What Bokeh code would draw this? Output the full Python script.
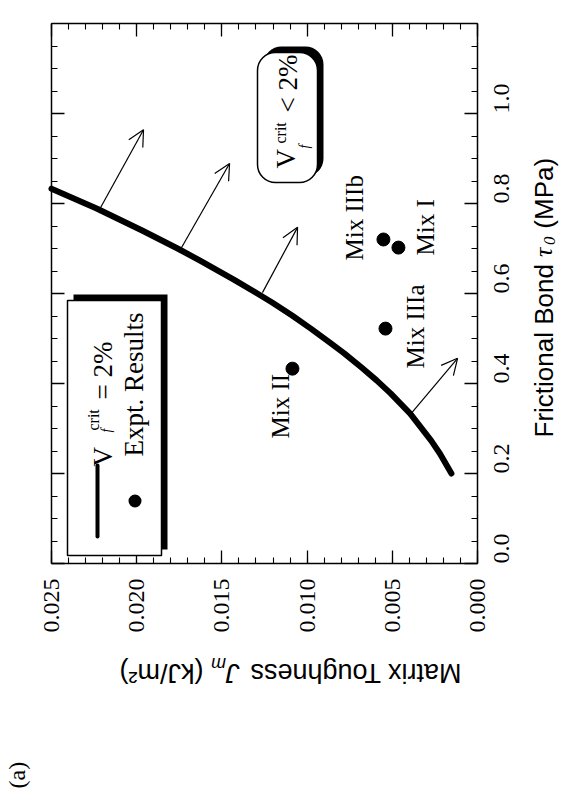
import math
from bokeh.plotting import figure
from bokeh.models import (Range1d, LinearAxis, SingleIntervalTicker, Label, BoxAnnotation,
                          Arrow, OpenHead, ColumnDataSource, NumeralTickFormatter,
                          CustomJSTickFormatter)
from bokeh.embed import file_html
from bokeh.resources import INLINE

# ---------------- data ----------------
# critical curve V_f^crit = 2 %  : frictional bond tau0 (MPa) vs matrix toughness Jm (kJ/m^2)
curve_tau = [0.200, 0.244, 0.273, 0.333, 0.378, 0.407, 0.436, 0.467, 0.491, 0.522,
             0.551, 0.580, 0.600, 0.631, 0.673, 0.700, 0.740, 0.789, 0.833]
curve_jm = [0.00153, 0.00220, 0.00272, 0.00395, 0.00510, 0.00592, 0.00682, 0.00782, 0.00866, 0.00978,
            0.01088, 0.01205, 0.01292, 0.01430, 0.01628, 0.01760, 0.01968, 0.02235, 0.02500]

# experimental results
mix_names = ["Mix I", "Mix II", "Mix IIIa", "Mix IIIb"]
mix_tau = [0.702, 0.433, 0.522, 0.720]
mix_jm = [0.00464, 0.01086, 0.00540, 0.00552]

# arrows pointing into the region V_f^crit < 2 %
arrow_jm_start = [0.00390, 0.01262, 0.01740, 0.02215]
arrow_tau_start = [0.333, 0.602, 0.700, 0.789]
arrow_jm_end = [0.00117, 0.01056, 0.01455, 0.01960]
arrow_tau_end = [0.456, 0.747, 0.889, 0.964]

JM_MAX = 0.025
TAU_MAX = 1.2
jm_tick_step = 0.005
tau_tick_step = 0.2

# ---------------- layout helpers (page pixels -> data) ----------------
W, H = 561, 795
FL, FR, FT, FB = 51, 477, 23, 563   # edges of the plot box on the page


def X(px):
    return JM_MAX * (FR - px) / (FR - FL)


def Y(py):
    return TAU_MAX * (FB - py) / (FB - FT)


SERIF = "Liberation Serif"
SANS = "Liberation Sans"
UP = math.pi / 2

# the frame covers the whole canvas; the plot box is drawn by four fixed axes
p = figure(width=W, height=H,
           x_range=Range1d(X(0), X(W)), y_range=Range1d(Y(H), Y(0)),
           x_axis_location="below", y_axis_location="right",
           output_backend="svg", toolbar_location=None,
           min_border_left=0, min_border_top=0, min_border_right=0, min_border_bottom=0,
           background_fill_color="white", border_fill_color="white")
p.xgrid.visible = False
p.ygrid.visible = False
p.outline_line_color = None

xt = SingleIntervalTicker(interval=jm_tick_step, num_minor_ticks=5)
yt = SingleIntervalTicker(interval=tau_tick_step, num_minor_ticks=4)
blank = CustomJSTickFormatter(code="return ''")


def style_axis(ax, labels=True, standoff=15):
    ax.axis_line_width = 1.5
    ax.axis_line_color = "black"
    ax.major_tick_in = 13
    ax.major_tick_out = 0
    ax.minor_tick_in = 6
    ax.minor_tick_out = 0
    ax.major_tick_line_width = 1.3
    ax.minor_tick_line_width = 1.1
    ax.major_tick_line_color = "black"
    ax.minor_tick_line_color = "black"
    ax.axis_label = None
    if labels:
        ax.major_label_text_font = SERIF
        ax.major_label_text_font_size = "24px"
        ax.major_label_text_color = "black"
        ax.major_label_orientation = math.pi / 2
        ax.major_label_standoff = standoff
    else:
        ax.formatter = blank
        ax.major_label_standoff = 0


xa = p.xaxis[0]
xa.ticker = xt
xa.formatter = NumeralTickFormatter(format="0.000")
xa.bounds = (0.0, JM_MAX)
xa.fixed_location = 0.0
style_axis(xa, standoff=15)

ya = p.yaxis[0]
ya.ticker = yt
ya.formatter = NumeralTickFormatter(format="0.0")
ya.bounds = (0.0, TAU_MAX)
ya.fixed_location = 0.0
style_axis(ya, standoff=24)

top_ax = LinearAxis(ticker=xt, bounds=(0.0, JM_MAX), fixed_location=TAU_MAX)
style_axis(top_ax, labels=False)
p.add_layout(top_ax, "above")
left_ax = LinearAxis(ticker=yt, bounds=(0.0, TAU_MAX), fixed_location=JM_MAX)
style_axis(left_ax, labels=False)
p.add_layout(left_ax, "left")

# ---------------- marks ----------------
p.line(curve_jm, curve_tau, line_width=6, line_color="black", line_cap="round", line_join="round")

arrow_src = ColumnDataSource(dict(xs=arrow_jm_start, ys=arrow_tau_start,
                                  xe=arrow_jm_end, ye=arrow_tau_end))
p.add_layout(Arrow(end=OpenHead(size=16, line_width=1.2, line_color="black"),
                   x_start="xs", y_start="ys", x_end="xe", y_end="ye",
                   source=arrow_src, line_width=1.2, line_color="black"))

p.scatter(mix_jm, mix_tau, size=13, color="black")

SHIFT = 0.34   # rotated labels are drawn this many em below their anchor; compensate


def add_text(s, px, py, size, font=SERIF, style="normal", angle=UP):
    k = SHIFT * size
    if angle == UP:
        px -= k
    else:
        py += k
    p.add_layout(Label(x=X(px), y=Y(py), text=s, angle=angle,
                       text_font=font, text_font_size=f"{size}px", text_font_style=style,
                       text_align="left", text_baseline="alphabetic", text_color="black"))


def add_box(l, r, t, b, fill, lw=1.5, radius=0):
    p.add_layout(BoxAnnotation(left=X(l), right=X(r), top=Y(t), bottom=Y(b),
                               fill_color=fill, fill_alpha=1.0,
                               line_color="black", line_alpha=1.0, line_width=lw,
                               border_radius=int(radius)))


# point labels (rotated, reading upward)
mix_label_pos = {"Mix II": (288, 438), "Mix IIIa": (423, 368),
                 "Mix IIIb": (362, 260), "Mix I": (433, 255)}
for name in mix_names:
    bx, sy = mix_label_pos[name]
    add_text(name, bx, sy, 25)

# legend box with shadow
add_box(73, 167, 294, 549, "black", lw=0)
add_box(67, 161, 300, 555, "white", lw=1.5)
add_box(95, 99, 463, 538, "black", lw=0, radius=2)          # line swatch
add_box(128, 141, 494, 507, "black", lw=0, radius=7)        # dot swatch
add_text("V", 112, 466, 27)
add_text("crit", 98, 430, 16)
add_text("f", 111, 432, 14, style="italic")
add_text("= 2%", 112, 399, 27)
add_text("Expt. Results", 143, 456, 27)

# rounded annotation box
add_box(263, 323, 46, 176, "black", lw=0, radius=18)
add_box(257, 317, 52, 182, "white", lw=1.5, radius=18)
add_text("V", 295, 168, 27)
add_text("crit", 285, 143, 16)
add_text("f", 309, 148, 14, style="italic")
add_text("< 2%", 297, 112, 27)

# axis titles (pieces placed one after another; SVG drops leading/trailing blanks)
ry = 437
add_text("Frictional Bond", 552, ry, 26, font=SANS)
ry -= 6.947 * 26
add_text("\u03c4", 552, ry, 26, font=SERIF, style="italic")
ry -= 12
add_text("0", 555, ry, 17, font=SERIF, style="italic")
ry -= 9 + 0.278 * 26
add_text("(MPa)", 552, ry, 26, font=SANS)

bx = 461
add_text("Matrix Toughness", bx, 663, 27, font=SANS, angle=math.pi)
bx -= 8.225 * 27
add_text("J", bx, 663, 27, font=SANS, style="italic", angle=math.pi)
bx -= 13.5
add_text("m", bx, 657, 18, font=SANS, style="italic", angle=math.pi)
bx -= 15 + 0.278 * 27
add_text("(kJ/m\u00b2)", bx, 663, 27, font=SANS, angle=math.pi)

add_text("(a)", 25, 788, 24)

open("out.html", "w").write(file_html(p, INLINE))
